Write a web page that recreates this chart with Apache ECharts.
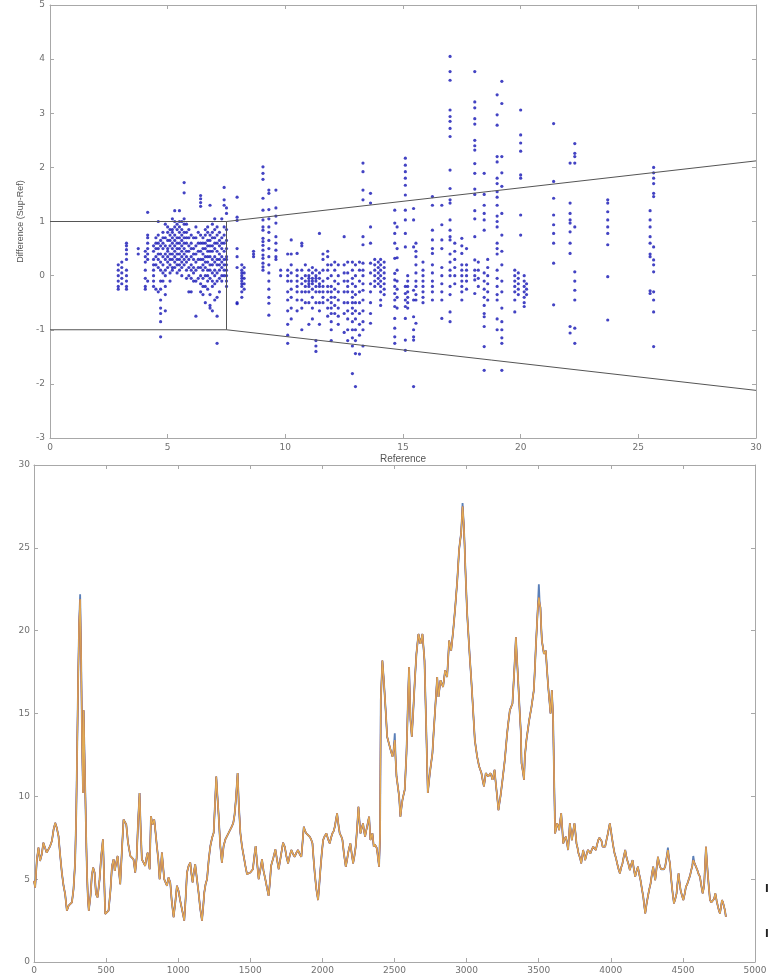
<!DOCTYPE html>
<html>
<head>
<meta charset="utf-8">
<script src="https://cdn.jsdelivr.net/npm/echarts@6/dist/echarts.min.js"></script>
<style>
  html, body { margin: 0; padding: 0; background: #fff; }
  #chart { width: 771px; height: 978px; }
</style>
</head>
<body>
<div id="chart"></div>
<script>
'use strict';

// ---- top panel: difference vs reference, one column per reference value ----
var refCols = [
    2.9, 3.05, 3.25, 3.75, 4.05, 4.15, 4.4, 4.5, 4.6, 4.7, 4.8, 4.9, 5.0, 5.1, 5.2, 5.3, 5.4, 5.5, 5.6, 5.7,
    5.8, 5.9, 6.0, 6.1, 6.2, 6.3, 6.4, 6.5, 6.6, 6.7, 6.8, 6.9, 7.0, 7.1, 7.2, 7.3, 7.4, 7.5,
    7.95, 8.15, 8.25, 8.65, 9.05, 9.3, 9.6, 9.8,
    10.1, 10.25, 10.5, 10.7, 10.85, 11.0, 11.15, 11.3, 11.45, 11.6, 11.8, 11.95, 12.1, 12.25, 12.5, 12.65,
    12.85, 12.98, 13.15, 13.3, 13.62, 13.8, 13.95,
    14.05, 14.2, 14.65, 14.75, 15.1, 15.2, 15.45, 15.55, 15.85, 16.25, 16.65, 17.0, 17.2, 17.5, 17.7,
    18.05, 18.2, 18.45, 18.6, 19.0, 19.2, 19.75, 19.9, 20.0, 20.15, 20.25,
    21.4, 22.1, 22.3, 23.7, 25.5, 25.65
];
var diffCols = [
    [0.2, 0.1, 0.0, -0.1, -0.2, -0.25],
    [0.25, 0.15, 0.05, -0.05, -0.15],
    [0.6, 0.55, 0.48, 0.4, 0.3, 0.1, 0.0, -0.1, -0.2, -0.25],
    [0.5, 0.4],
    [0.45, 0.35, 0.25, 0.1, -0.05, -0.2, -0.25],
    [1.17, 0.75, 0.7, 0.6, 0.5, 0.4, 0.3, -0.1],
    [0.55, 0.45, 0.3, 0.2, 0.1, 0.0, -0.1, -0.2],
    [0.7, 0.6, 0.5, 0.35, 0.2, -0.25],
    [1.0, 0.75, 0.6, 0.5, 0.4, 0.3, 0.15, -0.3],
    [0.65, 0.55, 0.4, 0.25, 0.1, -0.1, -0.25, -0.45, -0.6, -0.7, -0.85, -1.13],
    [0.8, 0.7, 0.6, 0.5, 0.35, 0.2, 0.05, -0.1],
    [0.95, 0.7, 0.55, 0.4, 0.3, 0.1, 0.0, -0.2, -0.35, -0.65],
    [0.9, 0.8, 0.65, 0.5, 0.45, 0.35, 0.25, 0.15],
    [0.85, 0.75, 0.65, 0.55, 0.4, 0.3, 0.2, 0.05, -0.1],
    [1.05, 0.85, 0.8, 0.7, 0.6, 0.5, 0.4, 0.3, 0.15, 0.1],
    [1.2, 1.0, 0.9, 0.75, 0.65, 0.55, 0.45, 0.35, 0.25, 0.15],
    [0.95, 0.85, 0.7, 0.6, 0.5, 0.4, 0.3, 0.2, 0.05],
    [1.2, 1.0, 0.9, 0.8, 0.7, 0.6, 0.5, 0.4, 0.3, 0.2, 0.1],
    [1.0, 0.85, 0.75, 0.65, 0.55, 0.45, 0.35, 0.25, 0.15, 0.0],
    [1.72, 1.53, 1.05, 0.95, 0.8, 0.7, 0.6, 0.5, 0.4, 0.3, 0.2],
    [0.95, 0.8, 0.7, 0.6, 0.45, 0.35, 0.25, 0.1, -0.05],
    [0.85, 0.7, 0.55, 0.45, 0.3, 0.15, 0.0, -0.3],
    [0.75, 0.6, 0.5, 0.35, 0.2, 0.1, -0.05, -0.3],
    [0.7, 0.5, 0.4, 0.3, 0.15, 0.05, -0.1],
    [0.9, 0.7, 0.55, 0.4, 0.25, 0.1, -0.1, -0.75],
    [0.8, 0.6, 0.45, 0.3, 0.15, -0.05],
    [1.48, 1.42, 1.35, 1.28, 0.75, 0.6, 0.45, 0.3, 0.15, 0.0, -0.15, -0.3],
    [0.7, 0.6, 0.5, 0.4, 0.3, 0.2, 0.1, -0.05, -0.2, -0.35],
    [0.85, 0.75, 0.6, 0.5, 0.35, 0.25, 0.15, 0.0, -0.2, -0.5],
    [0.9, 0.8, 0.65, 0.55, 0.45, 0.35, 0.25, 0.1, 0.0, -0.1, -0.25],
    [1.3, 0.75, 0.65, 0.55, 0.45, 0.35, 0.2, 0.1, -0.05, -0.35, -0.55, -0.6],
    [0.95, 0.8, 0.7, 0.55, 0.45, 0.3, 0.2, 0.05, -0.1, -0.2, -0.65],
    [1.05, 0.85, 0.7, 0.6, 0.5, 0.35, 0.25, 0.1, 0.0, -0.15, -0.45],
    [0.9, 0.75, 0.6, 0.45, 0.3, 0.2, 0.05, -0.1, -0.4, -0.75, -1.25],
    [0.8, 0.65, 0.55, 0.4, 0.3, 0.2, 0.1, -0.05, -0.3],
    [1.05, 0.7, 0.6, 0.5, 0.35, 0.25, 0.15, 0.0, -0.1],
    [1.63, 1.4, 1.3, 0.9, 0.75, 0.6, 0.45, 0.3, 0.2, 0.1, 0.0],
    [1.25, 1.15, 0.85, 0.65, 0.5, 0.35, 0.3, 0.2, 0.1, 0.0, -0.1, -0.2],
    [1.45, 1.08, 1.02, 0.5, 0.35, 0.15, -0.5, -0.52],
    [0.2, 0.1, 0.05, 0.0, -0.05, -0.1, -0.15, -0.2, -0.3, -0.4],
    [0.15, 0.05, -0.05, -0.15, -0.25],
    [0.45, 0.4, 0.35],
    [2.01, 1.89, 1.78, 1.43, 1.21, 1.03, 0.9, 0.84, 0.69, 0.63, 0.56, 0.47, 0.38, 0.32, 0.23, 0.16, 0.1],
    [1.58, 1.52, 1.22, 1.05, 0.9, 0.8, 0.65, 0.5, 0.35, 0.2, 0.05, -0.1, -0.25, -0.4, -0.51, -0.73],
    [1.58, 1.25, 1.1, 0.97, 0.72, 0.6, 0.47, 0.35, 0.3],
    [0.1, 0.0],
    [0.4, 0.1, 0.0, -0.1, -0.3, -0.45, -0.65, -0.9, -1.1, -1.25],
    [0.66, 0.4, 0.2, 0.05, -0.1, -0.25, -0.4, -0.6, -0.8],
    [0.41, 0.1, 0.0, -0.1, -0.2, -0.3, -0.45, -0.65],
    [0.6, 0.55, 0.1, -0.05, -0.15, -0.3, -0.45, -0.6, -1.0],
    [0.2, 0.0, -0.1, -0.2, -0.3, -0.5],
    [0.1, 0.0, -0.05, -0.1, -0.15, -0.2, -0.3, -0.5, -0.9],
    [0.15, 0.05, -0.05, -0.1, -0.15, -0.25, -0.4, -0.6, -0.8],
    [0.1, 0.0, -0.05, -0.1, -0.2, -0.3, -0.5, -1.2, -1.3, -1.4],
    [0.78, 0.05, -0.05, -0.15, -0.2, -0.3, -0.5, -0.65, -0.9],
    [0.4, 0.3, 0.1, -0.1, -0.2, -0.3, -0.4, -0.5],
    [0.45, 0.35, 0.2, 0.1, -0.05, -0.2, -0.3, -0.45, -0.6, -0.75],
    [0.2, 0.0, -0.2, -0.3, -0.4, -0.5, -0.6, -0.7, -0.85, -1.0, -1.2],
    [0.25, 0.1, -0.1, -0.25, -0.4, -0.55, -0.7],
    [0.2, 0.0, -0.15, -0.3, -0.45, -0.6, -0.75, -0.9],
    [0.72, 0.2, 0.05, -0.1, -0.3, -0.5, -0.7, -1.05],
    [0.25, 0.05, -0.1, -0.2, -0.3, -0.5, -0.65, -0.8, -1.0, -1.2],
    [0.25, 0.1, -0.05, -0.15, -0.3, -0.4, -0.5, -0.6, -0.7, -0.85, -1.0, -1.15, -1.3, -1.81],
    [0.2, 0.0, -0.2, -0.35, -0.5, -0.65, -0.8, -1.0, -1.2, -1.44, -2.05],
    [0.25, 0.1, -0.1, -0.3, -0.5, -0.7, -0.9, -1.1, -1.45],
    [2.08, 1.92, 1.58, 1.4, 0.72, 0.57, 0.23, 0.1, 0.0, -0.15, -0.27, -0.45, -0.65, -0.85, -1.0, -1.3],
    [1.52, 1.34, 0.9, 0.6, 0.23, 0.05, -0.15, -0.3, -0.5, -0.7, -0.88],
    [0.3, 0.2, 0.1, 0.0, -0.1, -0.2],
    [0.25, 0.15, 0.05, -0.05, -0.15],
    [0.3, 0.2, 0.1, 0.0, -0.1, -0.2, -0.3, -0.45, -0.55],
    [0.25, 0.15, 0.05, -0.05, -0.15, -0.25, -0.35],
    [1.21, 0.97, 0.78, 0.6, 0.32, 0.04, -0.08, -0.2, -0.33, -0.45, -0.57, -0.79, -0.97, -1.13, -1.25],
    [0.9, 0.5, 0.33, 0.1, -0.1, -0.25, -0.4, -0.6],
    [2.17, 2.04, 1.92, 1.8, 1.67, 1.49, 1.21, 1.03, 0.78, 0.53, -0.2, -0.33, -0.45, -0.57, -0.79, -1.19, -1.38],
    [0.0, -0.1, -0.2, -0.3, -0.4, -0.5, -0.6],
    [1.24, 1.03, 0.53, -0.27, -0.45, -0.76, -1.0, -1.13, -1.19, -2.05],
    [0.6, 0.45, 0.35, 0.2, 0.05, -0.1, -0.2, -0.35, -0.45, -0.88],
    [0.25, 0.1, 0.0, -0.1, -0.2, -0.3, -0.4, -0.5],
    [1.46, 1.3, 0.84, 0.66, 0.5, 0.41, 0.2, 0.05, -0.1, -0.2, -0.3, -0.45],
    [1.3, 0.94, 0.66, 0.5, 0.15, 0.0, -0.15, -0.3, -0.45, -0.79],
    [4.05, 3.77, 3.61, 3.06, 2.94, 2.85, 2.72, 2.57, 1.95, 1.61, 1.4, 1.34, 1.03, 0.84, 0.72, 0.66, 0.4, 0.25, 0.1, 0.0, -0.2, -0.35, -0.67, -0.85],
    [0.6, 0.45, 0.3, 0.15, 0.0, -0.15],
    [0.69, 0.55, 0.41, 0.2, 0.1, 0.0, -0.1, -0.2, -0.3, -0.45],
    [0.5, 0.2, 0.1, 0.0, -0.1, -0.25],
    [3.77, 3.21, 3.1, 2.9, 2.8, 2.5, 2.4, 2.32, 2.07, 1.89, 1.6, 1.5, 1.2, 1.05, 0.72, 0.29, 0.1, 0.0, -0.08, -0.33],
    [0.25, 0.1, -0.05, -0.2],
    [1.89, 1.5, 1.3, 1.15, 1.03, 0.84, 0.05, -0.1, -0.25, -0.4, -0.55, -0.7, -0.76, -0.94, -1.31, -1.75],
    [0.3, 0.15, 0.0, -0.15, -0.3, -0.45],
    [3.34, 2.97, 2.78, 2.2, 2.1, 1.8, 1.7, 1.55, 1.45, 1.3, 1.1, 1.0, 0.9, 0.6, 0.5, 0.4, 0.1, -0.05, -0.2, -0.35, -0.45, -0.8, -1.0],
    [3.59, 3.18, 2.2, 1.9, 1.65, 1.15, 0.75, 0.45, 0.2, -0.1, -0.3, -0.6, -0.85, -1.0, -1.15, -1.25, -1.75],
    [0.1, 0.0, -0.1, -0.2, -0.3, -0.45, -0.67],
    [0.05, -0.05, -0.15, -0.25, -0.35],
    [3.06, 2.6, 2.45, 2.3, 1.86, 1.8, 1.12, 0.75],
    [0.0, -0.1, -0.2, -0.3, -0.4, -0.5, -0.57],
    [-0.15, -0.25, -0.35],
    [2.81, 1.74, 1.43, 1.12, 0.94, 0.78, 0.6, 0.23, -0.54],
    [2.08, 1.34, 1.15, 1.03, 0.97, 0.81, 0.6, 0.41, -0.94, -1.06],
    [2.44, 2.26, 2.2, 2.08, 0.9, 0.07, -0.1, -0.27, -0.45, -0.97, -1.25],
    [1.4, 1.34, 1.18, 1.03, 0.9, 0.78, 0.57, -0.02, -0.82],
    [1.2, 1.03, 0.9, 0.72, 0.6, 0.4, 0.35, -0.28, -0.33],
    [2.0, 1.9, 1.8, 1.7, 1.52, 1.46, 0.53, 0.29, 0.2, 0.07, -0.3, -0.45, -0.67, -1.31]
];

// agreement limits (reference, upper, lower)
var limitX = [0, 7.5, 30];
var upperLimit = [1, 1, 2.12];
var lowerLimit = [-1, -1, -2.12];

// ---- bottom panel: the traces over the sample index ----
var traceX = [
    0, 8, 20, 31, 42, 54, 65, 77, 88, 100, 112, 124, 136, 147, 158, 170, 182, 193, 205, 216,
    228, 240, 251, 263, 274, 285, 293, 300, 306, 313, 320, 327, 334, 340, 344, 350, 356, 362, 368, 374,
    380, 392, 401, 410, 420, 430, 441, 455, 466, 478, 486, 494, 505, 517, 530, 541, 552, 560, 570, 580,
    589, 598, 610, 621, 630, 640, 652, 668, 680, 690, 702, 712, 722, 732, 740, 748, 760, 771, 780, 788,
    796, 802, 811, 822, 834, 843, 852, 862, 871, 879, 887, 895, 903, 912, 922, 933, 945, 955, 968, 980,
    991, 1002, 1014, 1028, 1042, 1052, 1061, 1072, 1084, 1092, 1100, 1108, 1118, 1130, 1141, 1153, 1165, 1173, 1181, 1190,
    1200, 1212, 1223, 1235, 1246, 1255, 1264, 1272, 1280, 1292, 1303, 1315, 1327, 1338, 1350, 1362, 1373, 1382, 1391, 1400,
    1412, 1420, 1431, 1442, 1454, 1466, 1477, 1489, 1500, 1510, 1518, 1528, 1537, 1547, 1558, 1570, 1581, 1592, 1604, 1615,
    1627, 1636, 1644, 1660, 1674, 1685, 1697, 1712, 1727, 1739, 1750, 1762, 1773, 1785, 1797, 1808, 1820, 1831, 1843, 1854,
    1863, 1871, 1880, 1889, 1900, 1912, 1922, 1931, 1939, 1947, 1958, 1970, 1978, 1986, 1995, 2005, 2016, 2028, 2040, 2051,
    2060, 2069, 2078, 2086, 2094, 2102, 2111, 2120, 2130, 2139, 2150, 2162, 2170, 2178, 2186, 2194, 2204, 2213, 2222, 2231,
    2240, 2250, 2257, 2264, 2273, 2282, 2289, 2296, 2303, 2310, 2317, 2324, 2333, 2340, 2347, 2356, 2363, 2370, 2376, 2382,
    2388, 2393, 2400, 2405, 2416, 2426, 2433, 2440, 2449, 2458, 2467, 2476, 2486, 2494, 2502, 2508, 2514, 2523, 2532, 2541,
    2548, 2555, 2563, 2571, 2577, 2583, 2589, 2594, 2601, 2606, 2611, 2620, 2629, 2641, 2652, 2659, 2666, 2673, 2680, 2687,
    2694, 2701, 2708, 2715, 2722, 2731, 2738, 2745, 2754, 2763, 2771, 2780, 2788, 2796, 2805, 2812, 2819, 2828, 2837, 2844,
    2851, 2858, 2865, 2872, 2879, 2886, 2893, 2900, 2907, 2914, 2921, 2928, 2935, 2942, 2948, 2955, 2962, 2967, 2972, 2977,
    2981, 2986, 2990, 2997, 3004, 3013, 3022, 3032, 3041, 3049, 3057, 3065, 3073, 3080, 3087, 3095, 3103, 3111, 3120, 3127,
    3133, 3141, 3150, 3158, 3166, 3173, 3180, 3187, 3194, 3200, 3207, 3214, 3221, 3228, 3235, 3242, 3249, 3257, 3265, 3273,
    3281, 3290, 3300, 3309, 3318, 3325, 3332, 3337, 3342, 3348, 3355, 3362, 3369, 3376, 3381, 3392, 3398, 3404, 3415, 3434,
    3450, 3466, 3473, 3480, 3487, 3494, 3501, 3507, 3512, 3517, 3522, 3529, 3536, 3543, 3549, 3557, 3566, 3574, 3582, 3587,
    3591, 3596, 3600, 3607, 3614, 3621, 3628, 3635, 3642, 3649, 3656, 3663, 3670, 3679, 3688, 3696, 3704, 3710, 3716, 3723,
    3730, 3739, 3748, 3755, 3762, 3769, 3776, 3786, 3795, 3802, 3808, 3815, 3822, 3832, 3841, 3850, 3859, 3869, 3878, 3887,
    3896, 3905, 3913, 3921, 3929, 3936, 3943, 3952, 3961, 3971, 3980, 3987, 3993, 4000, 4007, 4017, 4026, 4035, 4044, 4054,
    4063, 4072, 4081, 4091, 4100, 4107, 4114, 4123, 4132, 4142, 4151, 4160, 4169, 4179, 4188, 4197, 4206, 4216, 4225, 4232,
    4239, 4248, 4257, 4267, 4276, 4285, 4294, 4301, 4308, 4318, 4327, 4334, 4341, 4350, 4359, 4368, 4377, 4387, 4396, 4403,
    4410, 4417, 4424, 4431, 4438, 4447, 4456, 4463, 4470, 4477, 4484, 4494, 4503, 4512, 4521, 4530, 4539, 4549, 4558, 4565,
    4572, 4579, 4586, 4593, 4600, 4609, 4618, 4628, 4637, 4643, 4648, 4654, 4660, 4667, 4674, 4681, 4688, 4697, 4706, 4716,
    4725, 4734, 4743, 4750, 4757, 4764, 4771, 4778, 4785, 4792, 4798
];
var traceY = [
    4.9, 4.5, 6.2, 6.9, 6.1, 6.5, 7.2, 7.1, 6.6, 6.7, 7.0, 7.3, 8.0, 8.4, 8.1, 7.6, 6.4, 5.4, 4.6, 4.1,
    3.1, 3.4, 3.3, 3.6, 4.4, 6.0, 9.0, 13.2, 17.0, 20.4, 21.9, 18.2, 13.0, 10.2, 15.2, 12.6, 10.1, 7.4, 5.2, 3.8,
    3.1, 4.0, 5.2, 5.7, 5.4, 4.1, 3.9, 5.0, 6.4, 7.4, 5.2, 2.9, 3.0, 3.1, 4.3, 5.8, 6.2, 5.5, 6.0, 6.4,
    5.5, 4.7, 6.8, 8.6, 8.5, 8.3, 7.2, 6.4, 6.3, 6.2, 5.4, 6.3, 8.5, 10.2, 8.0, 6.2, 6.0, 5.8, 6.3, 6.6,
    6.0, 5.6, 8.8, 8.3, 8.6, 7.8, 7.0, 6.2, 5.0, 5.6, 6.6, 5.8, 5.0, 4.9, 4.6, 5.1, 4.8, 3.7, 2.7, 3.6,
    4.6, 4.3, 3.7, 3.1, 2.5, 3.9, 5.4, 5.8, 6.0, 5.3, 4.8, 5.4, 5.9, 5.0, 4.2, 3.2, 2.5, 3.3, 4.2, 4.7,
    5.0, 6.2, 7.0, 7.5, 7.8, 9.5, 11.2, 10.0, 8.9, 7.0, 6.0, 7.0, 7.4, 7.5, 7.8, 7.7, 8.2, 8.4, 8.9, 9.8,
    11.4, 9.6, 7.8, 7.0, 6.4, 5.8, 5.3, 5.2, 5.4, 5.3, 5.6, 6.4, 7.0, 6.0, 5.0, 5.6, 6.2, 5.5, 5.0, 4.5,
    4.0, 4.8, 5.8, 6.3, 6.8, 6.2, 5.6, 6.4, 7.2, 6.96, 6.4, 5.95, 6.4, 6.76, 6.5, 6.35, 6.6, 6.76, 6.5, 6.35,
    7.3, 8.16, 7.9, 7.76, 7.7, 7.56, 7.4, 7.16, 6.2, 5.35, 4.4, 3.74, 4.6, 5.55, 6.5, 7.36, 7.6, 7.76, 7.4, 7.16,
    7.5, 7.76, 7.9, 8.16, 8.6, 8.97, 8.3, 7.76, 7.6, 7.36, 6.5, 5.75, 6.1, 6.56, 6.9, 7.16, 6.5, 5.95, 6.4, 6.96,
    8.0, 9.37, 8.5, 7.76, 8.1, 8.37, 7.9, 7.56, 7.9, 8.16, 8.5, 8.77, 7.36, 7.6, 7.76, 6.96, 7.1, 7.16, 6.9, 6.56,
    6.1, 5.75, 7.76, 15.8, 18.2, 17.0, 16.0, 15.0, 13.6, 13.3, 13.0, 12.7, 12.4, 12.8, 13.4, 12.2, 11.2, 10.6, 10.0, 8.77,
    9.3, 9.77, 10.1, 10.4, 11.5, 12.6, 14.3, 16.0, 17.8, 16.2, 14.6, 13.6, 15.0, 17.0, 18.6, 19.2, 19.8, 19.5, 19.2, 19.5,
    19.8, 19.0, 18.2, 15.8, 13.4, 10.2, 10.8, 11.4, 12.0, 12.6, 13.8, 15.0, 16.1, 17.2, 16.0, 16.5, 17.0, 16.8, 16.6, 17.1,
    17.6, 17.4, 17.2, 18.3, 19.4, 19.1, 18.8, 19.4, 20.0, 20.7, 21.4, 22.2, 23.0, 24.0, 24.9, 25.4, 25.9, 26.7, 27.5, 26.9,
    26.3, 25.2, 24.1, 22.5, 21.0, 19.7, 18.4, 17.1, 15.8, 14.6, 13.4, 12.9, 12.4, 12.1, 11.8, 11.6, 11.4, 11.0, 10.6, 11.0,
    11.4, 11.3, 11.2, 11.3, 11.4, 11.2, 11.0, 11.3, 11.6, 11.0, 10.4, 9.8, 9.17, 9.6, 10.0, 10.5, 11.0, 11.6, 12.2, 13.0,
    13.8, 14.5, 15.2, 15.4, 15.6, 16.7, 17.8, 18.7, 19.6, 18.5, 17.4, 16.2, 15.0, 13.9, 12.0, 11.4, 11.0, 12.4, 13.4, 14.6,
    15.4, 16.4, 17.6, 19.0, 20.2, 21.4, 22.0, 21.6, 21.4, 20.3, 19.4, 19.0, 18.6, 18.7, 18.8, 17.7, 16.6, 15.8, 15.0, 15.7,
    16.4, 15.5, 14.6, 11.0, 7.76, 8.1, 8.37, 8.2, 7.96, 8.5, 8.97, 8.1, 7.16, 7.4, 7.56, 7.2, 6.76, 7.6, 8.37, 7.9,
    7.36, 7.9, 8.37, 7.8, 7.16, 6.9, 6.56, 6.3, 5.95, 6.4, 6.76, 6.5, 6.15, 6.5, 6.76, 6.7, 6.56, 6.8, 6.96, 6.9,
    6.76, 7.1, 7.36, 7.5, 7.56, 7.3, 6.96, 6.9, 6.96, 7.4, 7.76, 8.1, 8.37, 8.0, 7.56, 7.0, 6.56, 6.3, 5.95, 5.6,
    5.35, 5.7, 5.95, 6.4, 6.76, 6.4, 6.15, 5.9, 5.55, 5.9, 6.15, 5.6, 5.15, 5.5, 5.75, 5.3, 4.94, 4.4, 3.94, 3.4,
    2.93, 3.5, 3.94, 4.4, 4.74, 5.3, 5.75, 5.3, 4.94, 5.7, 6.35, 6.0, 5.75, 5.6, 5.55, 5.6, 5.75, 6.3, 6.76, 6.3,
    5.95, 5.2, 4.54, 4.0, 3.54, 3.8, 4.14, 4.8, 5.35, 4.8, 4.34, 4.0, 3.74, 4.1, 4.54, 4.7, 4.94, 5.2, 5.55, 5.8,
    6.15, 6.0, 5.95, 5.7, 5.55, 5.3, 5.15, 4.6, 4.14, 4.4, 4.74, 5.9, 6.96, 6.0, 5.15, 4.4, 3.74, 3.6, 3.54, 3.8,
    4.14, 3.7, 3.34, 3.1, 2.93, 3.3, 3.74, 3.6, 3.54, 3.1, 2.73
];
// where the blue trace stands out of the bundle (sample, value)
var blueTips = [[320, 22.2], [2502, 13.8], [2972, 27.7], [3501, 22.8], [4396, 6.9], [4572, 6.4]];

var chart = echarts.init(document.getElementById('chart'));

var scatterData = [];
for (var i = 0; i < refCols.length; i++) {
    for (var j = 0; j < diffCols[i].length; j++) {
        scatterData.push([refCols[i], diffCols[i][j]]);
    }
}
function pairs(xs, ys) {
    return xs.map(function (x, k) { return [x, ys[k]]; });
}
var traceData = pairs(traceX, traceY);
var blueData = traceData.map(function (p) {
    for (var k = 0; k < blueTips.length; k++) {
        if (blueTips[k][0] === p[0]) return [p[0], blueTips[k][1]];
    }
    return p;
});

var axisGray = '#a8a8a8';
var labelStyle = {
    fontFamily: 'DejaVu Sans', fontSize: 9, color: '#707070',
    formatter: function (v) { return String(v); }
};

function boxAxis(grid, pos, min, max, step, showLabel, extra) {
    var a = {
        gridIndex: grid, type: 'value', position: pos, min: min, max: max, interval: step,
        axisLine: { show: true, onZero: false, lineStyle: { color: axisGray, width: 1 } },
        axisTick: { show: true, inside: true, length: 4, lineStyle: { color: axisGray } },
        axisLabel: Object.assign({ show: showLabel, margin: 5 }, labelStyle),
        splitLine: { show: false }
    };
    return Object.assign(a, extra || {});
}

var options = {
    animation: false,
    backgroundColor: '#fff',
    grid: [
        { left: 50, top: 5, width: 706, height: 433 },
        { left: 34, top: 465, width: 721, height: 497 }
    ],
    xAxis: [
        boxAxis(0, 'bottom', 0, 30, 5, true, {
            name: 'Reference', nameLocation: 'middle', nameGap: 16,
            nameTextStyle: { fontFamily: 'Liberation Sans', fontSize: 10, color: '#555' }
        }),
        boxAxis(0, 'top', 0, 30, 5, false),
        boxAxis(1, 'bottom', 0, 5000, 500, true, { axisLabel: Object.assign({ show: true, margin: 4 }, labelStyle) }),
        boxAxis(1, 'top', 0, 5000, 500, false)
    ],
    yAxis: [
        boxAxis(0, 'left', -3, 5, 1, true, {
            name: 'Difference (Sup-Ref)', nameLocation: 'middle', nameGap: 20,
            nameTextStyle: { fontFamily: 'Liberation Sans', fontSize: 9, color: '#555' }
        }),
        boxAxis(0, 'right', -3, 5, 1, false),
        boxAxis(1, 'left', 0, 30, 5, true, { axisLabel: Object.assign({ show: true, margin: 4 }, labelStyle) }),
        boxAxis(1, 'right', 0, 30, 5, false)
    ],
    series: [
        {
            name: 'Difference', type: 'scatter', xAxisIndex: 0, yAxisIndex: 0,
            symbol: 'circle', symbolSize: 3.2,
            itemStyle: { color: '#1414b4' },
            data: scatterData
        },
        {
            name: 'Upper limit', type: 'line', xAxisIndex: 0, yAxisIndex: 0,
            showSymbol: false, lineStyle: { color: '#555', width: 1 },
            data: pairs(limitX, upperLimit)
        },
        {
            name: 'Lower limit', type: 'line', xAxisIndex: 0, yAxisIndex: 0,
            showSymbol: false, lineStyle: { color: '#555', width: 1 },
            data: pairs(limitX, lowerLimit)
        },
        {
            name: 'Split', type: 'line', xAxisIndex: 0, yAxisIndex: 0,
            showSymbol: false, lineStyle: { color: '#555', width: 1 },
            data: [[limitX[1], upperLimit[1]], [limitX[1], lowerLimit[1]]]
        },
        {
            name: 'Trace 1', type: 'line', xAxisIndex: 2, yAxisIndex: 2,
            showSymbol: false, lineStyle: { color: '#5a7fb8', width: 1.8 },
            data: blueData
        },
        {
            name: 'Trace 2', type: 'line', xAxisIndex: 2, yAxisIndex: 2,
            showSymbol: false, lineStyle: { color: '#8a5a8e', width: 1.5 },
            data: traceData
        },
        {
            name: 'Trace 3', type: 'line', xAxisIndex: 2, yAxisIndex: 2,
            showSymbol: false, lineStyle: { color: '#d2793e', width: 1.3 },
            data: traceData
        },
        {
            name: 'Trace 4', type: 'line', xAxisIndex: 2, yAxisIndex: 2,
            showSymbol: false, lineStyle: { color: '#e2b45a', width: 1.1, opacity: 0.9 },
            data: traceData
        }
    ],
    graphic: [
        { type: 'text', left: 765, top: 884, style: { text: 'l', font: 'bold 11px DejaVu Sans', fill: '#222' } },
        { type: 'text', left: 765, top: 929, style: { text: 'l', font: 'bold 11px DejaVu Sans', fill: '#222' } }
    ]
};

chart.setOption(options);
</script>
</body>
</html>
